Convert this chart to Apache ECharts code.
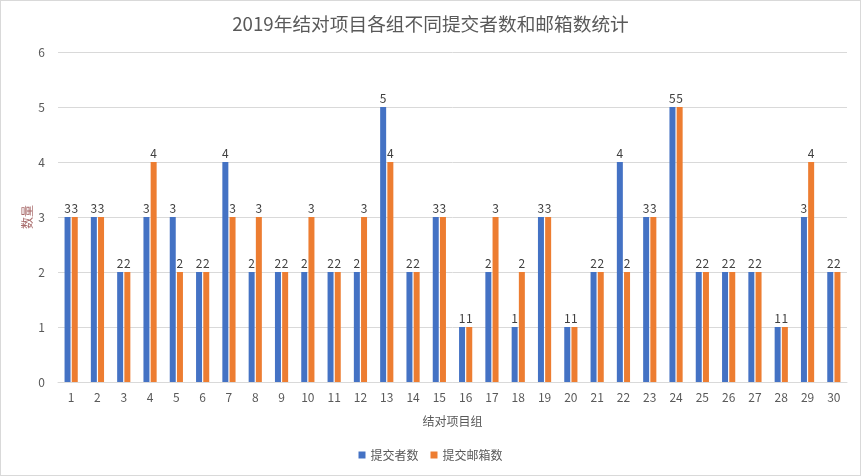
<!DOCTYPE html>
<html><head><meta charset="utf-8">
<script src="https://cdn.jsdelivr.net/npm/echarts@6/dist/echarts.min.js"></script>
<style>html,body{margin:0;padding:0;background:#fff}#c{width:861px;height:476px;box-sizing:border-box;border:1px solid #d9d9d9}</style>
</head><body><div id="c"></div>
<script>
const categories = ['1','2','3','4','5','6','7','8','9','10','11','12','13','14','15','16','17','18','19','20','21','22','23','24','25','26','27','28','29','30'];
const committers = [3,3,2,3,3,2,4,2,2,2,2,2,5,2,3,1,2,1,3,1,2,4,3,5,2,2,2,1,3,2];
const emails = [3,3,2,4,2,2,3,3,2,3,2,3,4,2,3,1,3,2,3,1,2,2,3,5,2,2,2,1,4,2];
const chart = echarts.init(document.getElementById('c'));
const font = 'Microsoft YaHei, "Noto Sans CJK SC", sans-serif';
const lbl = {show:true, position:'top', color:'#404040', fontSize:12, distance:3, fontFamily:font};
chart.setOption({
  animation:false,
  textStyle:{fontFamily:font},
  title:{text:'2019年结对项目各组不同提交者数和邮箱数统计', left:'center', top:9, textStyle:{fontSize:18.7, fontWeight:'normal', color:'#595959', fontFamily:font}},
  legend:{bottom:9, left:'center', itemWidth:7, itemHeight:7, itemGap:12, icon:'rect', textStyle:{color:'#595959', fontSize:12, fontFamily:font}},
  grid:{left:57, right:13, top:51, bottom:93},
  xAxis:{type:'category', data:categories, name:'结对项目组', nameLocation:'middle', nameGap:33, nameMoveOverlap:false,
    nameTextStyle:{color:'#595959', fontSize:12},
    axisLine:{lineStyle:{color:'#d9d9d9'}}, axisTick:{show:false},
    axisLabel:{color:'#595959', fontSize:12, margin:9}},
  yAxis:{type:'value', min:0, max:6, interval:1, name:'数量', nameLocation:'middle', nameGap:31, nameMoveOverlap:false, nameRotate:90,
    nameTextStyle:{color:'#a86a6a', fontSize:12, align:'center', verticalAlign:'middle'},
    axisLine:{show:false}, axisTick:{show:false},
    axisLabel:{color:'#595959', fontSize:12, margin:13},
    splitLine:{lineStyle:{color:'#d9d9d9'}}},
  series:[
    {name:'提交者数', type:'bar', data:committers, barWidth:6, barGap:'20%', itemStyle:{color:'#4472C4'}, label:lbl},
    {name:'提交邮箱数', type:'bar', data:emails, barWidth:6, barGap:'20%', itemStyle:{color:'#ED7D31'}, label:lbl}
  ]
});
</script></body></html>
